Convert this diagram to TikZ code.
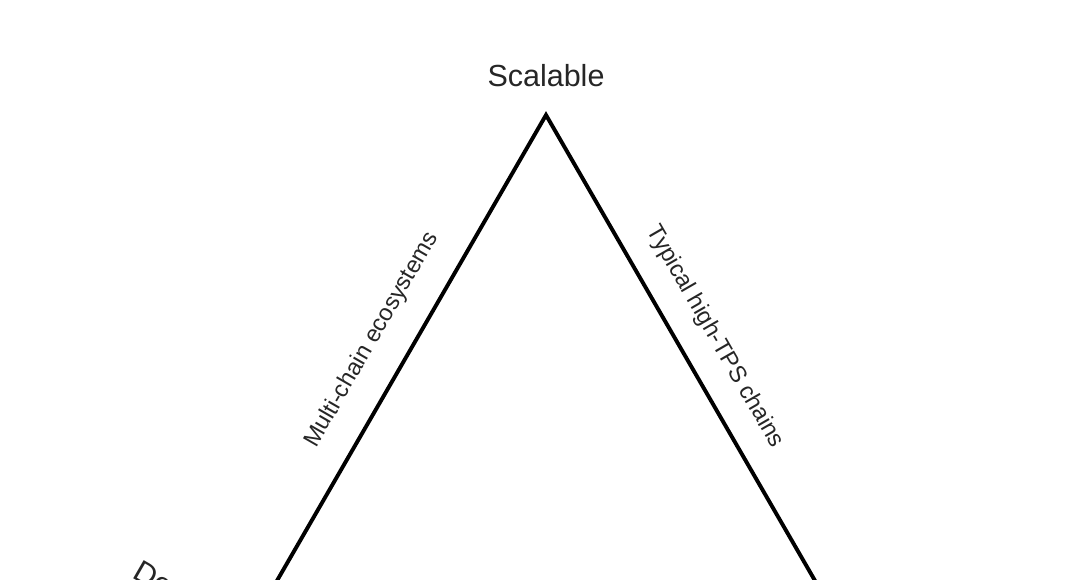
\documentclass[tikz,border=0pt]{standalone}
\usepackage{fontspec}
\setmainfont{Liberation Sans}
\begin{document}
\begin{tikzpicture}[x=1pt,y=-1pt,
  edge/.style={line width=3.9pt, line join=miter, black},
  vlabel/.style={inner sep=0pt, text=black!85, font=\fontsize{30.5}{36}\selectfont},
  elabel/.style={inner sep=0pt, text=black!85, font=\fontsize{23.5}{28}\selectfont}]
\useasboundingbox (0,0) rectangle (1068,580);
\clip (0,0) rectangle (1068,580);
\fill[white] (0,0) rectangle (1068,580);
\coordinate (top) at (546,115);
\coordinate (bl) at (200,714);
\coordinate (br) at (892,714);
\draw[edge] (bl) -- (top) -- (br) -- cycle;
\node[vlabel] (scal) at (546,76) {Scalable};
\node[elabel, rotate=60] (multi) at (372,340) {Multi-chain ecosystems};
\node[elabel, rotate=-60] (typ) at (715,337) {Typical high-TPS chains};
\node[vlabel, rotate=-30, anchor=base west] (dec) at (131,577) {Decentralized};
\end{tikzpicture}
\end{document}
